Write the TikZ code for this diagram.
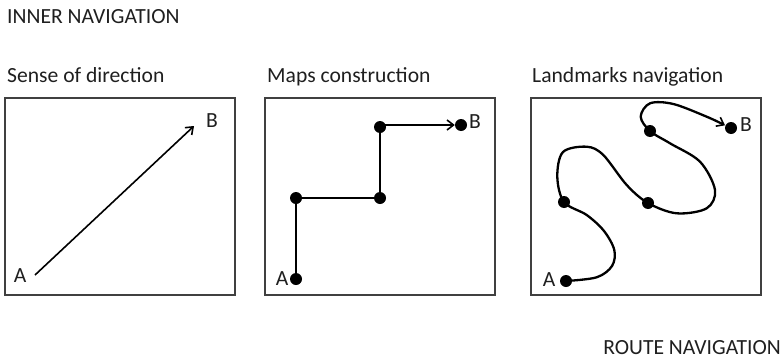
\documentclass[tikz,border=0pt]{standalone}
\usepackage{fontspec}
\setmainfont{Carlito}
\usetikzlibrary{arrows.meta}
\begin{document}
\begin{tikzpicture}[x=1pt,y=-1pt,
  every node/.style={inner sep=0pt,text=black!88,font=\fontsize{21.6}{26}\selectfont},
  title/.style={anchor=base west},
  panel/.style={draw=black!75,line width=1.3pt,minimum width=230pt,minimum height=197pt},
  dot/.style={circle,fill=black,minimum size=12pt},
  pathline/.style={line width=2.3pt,line join=round},
  tip/.style={-{Straight Barb[length=6.5pt,width=10pt,line width=1.6pt]}}
]
\useasboundingbox (0,0) rectangle (784,359);
% titles
\node[title] (inner) at (7,23) {INNER NAVIGATION};
\node[title] (t1) at (7,82) {Sense of direction};
\node[title] (t2) at (267,82) {Maps construction};
\node[title] (t3) at (532,82) {Landmarks navigation};
\node[anchor=base east] (route) at (781,354) {ROUTE NAVIGATION};
% panels
\node[panel] (p1) at (120,196.5) {};
\node[panel] (p2) at (380,196.5) {};
\node[panel] (p3) at (646,196.5) {};
% panel 1
\coordinate (s1) at (35,275);
\coordinate (e1) at (194,126);
\node (A1) at (20,276) {A};
\node (B1) at (212,121) {B};
\draw[line width=1.6pt,tip] (s1) -- (e1);
% panel 2
\node[dot] (a2) at (296,279) {};
\node[dot] (m1) at (296,198) {};
\node[dot] (m2) at (380,198) {};
\node[dot] (m3) at (380,127) {};
\node[dot] (b2) at (461,125) {};
\node (A2) at (282,279) {A};
\node (B2) at (475,122) {B};
\draw[pathline] (a2.center) -- (m1.center) -- (m2.center) -- (m3.center);
\draw[pathline,tip] (m3.center |- b2.center) -- (b2);
% panel 3
\node[dot] (a3) at (566,281) {};
\node[dot] (d1) at (564,202) {};
\node[dot] (d2) at (648,203) {};
\node[dot] (d3) at (650,131) {};
\node[dot] (b3) at (731,128) {};
\node (A3) at (549,280) {A};
\node (B3) at (746,125) {B};
\coordinate (end3) at (725,125.3);
\draw[pathline,tip] plot[smooth,tension=0.55] coordinates {
  (a3.center) (596.7,277.3) (612,266) (614.3,250) (604,231) (586.7,215)
  (d1.center) (557.3,176.7) (563,152) (586.7,146.7) (603.3,155) (626.7,185)
  (d2.center) (676.7,213.3) (706.7,208.3) (715,190) (700,161.7) (670,143.3)
  (d3.center) (640.7,116.7) (650,103.3) (673.3,104) (706.7,116.7) (end3)};
\end{tikzpicture}
\end{document}
